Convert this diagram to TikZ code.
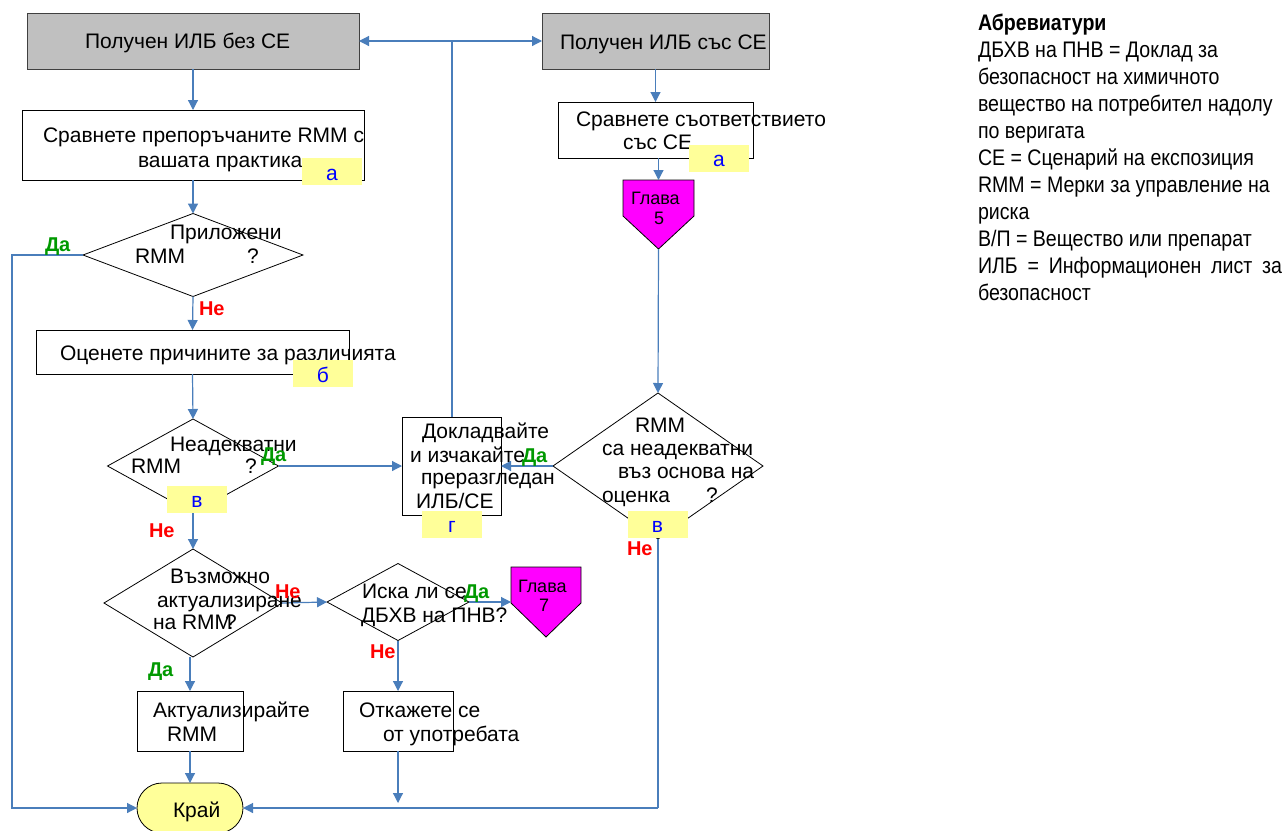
\documentclass[tikz,border=0pt]{standalone}
\usepackage{fontspec}
\setmainfont{Liberation Sans}
\newfontfamily\abbrfont[FakeStretch=0.87]{Liberation Sans}
\usetikzlibrary{arrows.meta,shapes.geometric,calc}
\definecolor{flowline}{HTML}{4A7EBB}
\definecolor{startgray}{HTML}{C0C0C0}
\definecolor{startedge}{HTML}{404040}
\definecolor{tagyellow}{HTML}{FFFF99}
\definecolor{tagblue}{HTML}{0000FF}
\definecolor{chapmag}{HTML}{FF00FF}
\definecolor{yesgreen}{HTML}{009900}
\definecolor{nored}{HTML}{FF0000}
\begin{document}
\begin{tikzpicture}[x=1pt,y=-1pt,
  every node/.style={inner sep=0pt,outer sep=0pt},
  startbox/.style={draw=startedge,fill=startgray,line width=1pt,minimum height=56pt},
  actbox/.style={draw=black,fill=white,line width=0.8pt},
  decision/.style={diamond,draw=black,fill=white,line width=0.8pt},
  chapter/.style={draw=black,fill=chapmag,line width=0.8pt},
  endbox/.style={draw=black,fill=tagyellow,line width=0.8pt,rounded corners=25pt,minimum width=106pt,minimum height=50pt},
  flow/.style={draw=flowline,line width=1.2pt},
  arr/.style={flow,-{Triangle[length=10pt,width=10pt]}},
  txt/.style={anchor=base west,font=\fontsize{21}{25}\selectfont},
  small/.style={anchor=base west,font=\fontsize{18}{21}\selectfont},
  tag/.style={fill=tagyellow,minimum width=60pt,minimum height=27pt,text=tagblue,
    text height=17pt,text depth=0pt,font=\fontsize{21}{25}\selectfont},
  yes/.style={anchor=base west,text=yesgreen,font=\fontsize{20}{24}\selectfont\bfseries},
  no/.style={anchor=base west,text=nored,font=\fontsize{20}{24}\selectfont\bfseries},
  abbr/.style={anchor=base west,font=\abbrfont\fontsize{22.5}{27}\selectfont}
]
\useasboundingbox (0,0) rectangle (1287,830);

% ---- shapes ----
\node[startbox,minimum width=332pt] (s1) at (193,41) {};
\node[startbox,minimum width=227pt] (r1) at (655.5,41) {};
\node[actbox,minimum width=342pt,minimum height=70pt] (c1) at (193,145) {};
\node[actbox,minimum width=195pt,minimum height=56pt] (r2) at (655.5,130) {};
\node[decision,minimum width=220pt,minimum height=83pt] (d1) at (193,255) {};
\node[actbox,minimum width=313pt,minimum height=44pt] (e1) at (192.5,352) {};
\node[decision,minimum width=171pt,minimum height=94pt] (d2) at (193,466) {};
\node[actbox,minimum width=99pt,minimum height=98pt] (k1) at (451.5,466) {};
\node[decision,minimum width=210pt,minimum height=146pt] (d5) at (658,466) {};
\node[decision,minimum width=178pt,minimum height=108pt] (d3) at (193,603) {};
\node[decision,minimum width=142pt,minimum height=77pt] (d4) at (398,602) {};
\node[actbox,minimum width=106pt,minimum height=60pt] (a1) at (190,721) {};
\node[actbox,minimum width=110pt,minimum height=60pt] (o1) at (398,721) {};
\node[endbox] (end) at (190,808) {};

% chapter markers (pentagons pointing down)
\node[minimum width=71pt,minimum height=69pt] (g5) at (658.5,214.5) {};
\draw[chapter] (g5.north west) -- (g5.north east) -- ($(g5.north east)+(0,36)$)
  -- (g5.south) -- ($(g5.north west)+(0,36)$) -- cycle;
\node[minimum width=70pt,minimum height=70pt] (g7) at (546,602) {};
\draw[chapter] (g7.north west) -- (g7.north east) -- ($(g7.north east)+(0,36)$)
  -- (g7.south) -- ($(g7.north west)+(0,36)$) -- cycle;

% ---- connectors ----
\coordinate (top) at (452,41);
\coordinate (left) at (12,255);
\coordinate (right) at (658,808);
\coordinate (drop) at (398,803);

\draw[arr] (s1.south) -- (c1.north);
\draw[arr] (c1.south) -- (d1.north);
\draw[arr] (d1.south) -- (e1.north);
\draw[arr] (e1.south) -- (d2.north);
\draw[arr] (d2.south) -- (d3.north);
\draw[arr] (d3.east) -- (d4.west);
\draw[arr] (d4.east) -- (g7.west);
\draw[arr] (d3.south -| a1.north) -- (a1.north);
\draw[arr] (a1.south) -- (end.north);
\draw[arr] (d4.south) -- (o1.north);
\draw[arr] (o1.south) -- (drop);
\draw[arr] (d1.west) -- (left) |- (end.west);
\draw[arr] (d2.east) -- (k1.west);
\draw[arr] (d5.west) -- (k1.east);
\draw[flow] (k1.north -| top) -- (top);
\draw[arr] (top) -- (s1.east);
\draw[arr] (top) -- (r1.west);
\draw[arr] (r1.south) -- (r2.north);
\draw[arr] (r2.south -| g5.north) -- (g5.north);
\draw[arr] (g5.south) -- (d5.north);
\draw[flow] (d5.south) -- (right);
\draw[arr] (right) -- (end.east);

% ---- texts ----
\node[txt] (s1a) at (85,48) {Получен ИЛБ без СЕ};
\node[txt] (r1a) at (560,49) {Получен ИЛБ със СЕ};
\node[txt] (c1a) at (43,142) {Сравнете препоръчаните RMM с};
\node[txt] (c1b) at (138,167) {вашата практика};
\node[txt] (r2a) at (576,126) {Сравнете съответствието};
\node[txt] (r2b) at (623,149) {със СЕ};
\node[txt] (d1a) at (170,239) {Приложени};
\node[txt] (d1b) at (135,263) {RMM};
\node[txt] (d1c) at (247,263) {?};
\node[txt] (e1a) at (60,360) {Оценете причините за различията};
\node[txt] (d2a) at (170,451) {Неадекватни};
\node[txt] (d2b) at (131,473) {RMM};
\node[txt] (d2c) at (245,473) {?};
\node[txt] (k1a) at (422,438) {Докладвайте};
\node[txt] (k1b) at (410,462) {и изчакайте};
\node[txt] (k1c) at (421,484) {преразгледан};
\node[txt] (k1d) at (416,508) {ИЛБ/СЕ};
\node[txt] (d5a) at (635,432) {RMM};
\node[txt] (d5b) at (602,455) {са неадекватни};
\node[txt] (d5c) at (618,478) {въз основа на};
\node[txt] (d5d) at (602,502) {оценка};
\node[txt] (d5e) at (706,502) {?};
\node[txt] (d3a) at (170,583) {Възможно};
\node[txt] (d3b) at (157,607) {актуализиране};
\node[txt] (d3c) at (153,629) {на RMM};
\node[txt] (d3d) at (225,629) {?};
\node[txt] (d4a) at (362,598) {Иска ли се};
\node[txt] (d4b) at (361,622) {ДБХВ на ПНВ?};
\node[txt] (a1a) at (153,717) {Актуализирайте};
\node[txt] (a1b) at (167,741) {RMM};
\node[txt] (o1a) at (359,717) {Откажете се};
\node[txt] (o1b) at (383,741) {от употребата};
\node[txt] (enda) at (173,817) {Край};
\node[small] (g5a) at (631,204) {Глава};
\node[small] (g5b) at (654,224) {5};
\node[small] (g7a) at (518,592) {Глава};
\node[small] (g7b) at (539,611) {7};

% reference tags
\node[tag] (t1) at (332,171.5) {а};
\node[tag] (t2) at (719,158) {а};
\node[tag] (t3) at (323,373.5) {б};
\node[tag] (t4) at (197,499) {в};
\node[tag] (t5) at (657.5,524) {в};
\node[tag] (t6) at (452,524) {г};

% branch labels
\node[yes] (y1) at (45,251) {Да};
\node[no] (n1) at (199,315) {Не};
\node[yes] (y2) at (261,461) {Да};
\node[no] (n2) at (149,537) {Не};
\node[yes] (y3) at (522,462) {Да};
\node[no] (n3) at (627,555) {Не};
\node[no] (n4) at (275,598) {Не};
\node[yes] (y4) at (464,598) {Да};
\node[yes] (y5) at (148,676) {Да};
\node[no] (n5) at (370,658) {Не};

% abbreviations
\node[abbr] (ab0) at (978,30) {\bfseries Абревиатури};
\node[abbr] (ab1) at (978,57) {ДБХВ на ПНВ = Доклад за};
\node[abbr] (ab2) at (978,84) {безопасност на химичното};
\node[abbr] (ab3) at (978,111) {вещество на потребител надолу};
\node[abbr] (ab4) at (978,138) {по веригата};
\node[abbr] (ab5) at (978,165) {СЕ = Сценарий на експозиция};
\node[abbr] (ab6) at (978,192) {RMM = Мерки за управление на};
\node[abbr] (ab7) at (978,219) {риска};
\node[abbr] (ab8) at (978,246) {В/П = Вещество или препарат};
\node[abbr] (ab9) at (978,273) {\makebox[304pt][s]{ИЛБ = Информационен лист за}};
\node[abbr] (ab10) at (978,300) {безопасност};
\end{tikzpicture}
\end{document}
